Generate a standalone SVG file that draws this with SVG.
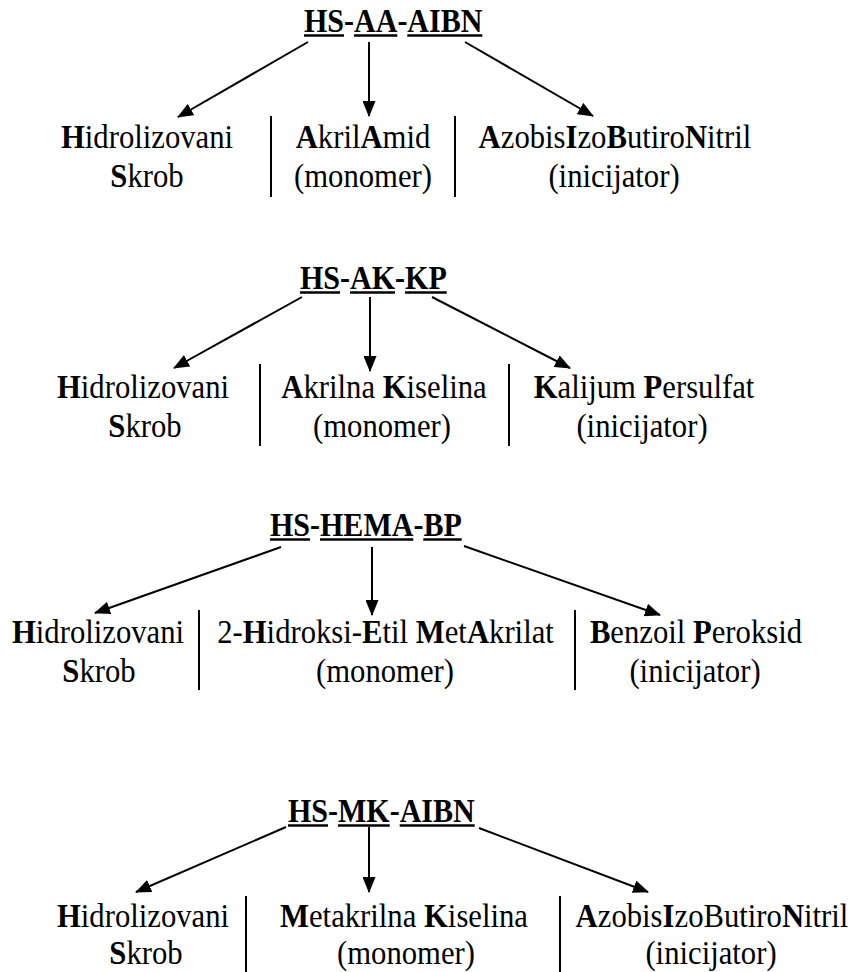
<svg xmlns="http://www.w3.org/2000/svg" width="854" height="972" viewBox="0 0 854 972">
<defs>
<marker id="ah" markerUnits="userSpaceOnUse" markerWidth="16" markerHeight="13" refX="15" refY="6.5" orient="auto"><path d="M0,0 L16,6.5 L0,13 z" fill="#000"/></marker>
<style>
text{font-family:"Liberation Serif","Times New Roman","DejaVu Serif",serif;fill:#000}
.t{font-size:33px;font-weight:bold}
.b{font-size:33px;text-anchor:middle}
.k{font-weight:bold}
.ul{stroke:#000;stroke-width:2.5}
.sep{stroke:#000;stroke-width:2}
.arr{stroke:#000;stroke-width:2;fill:none;marker-end:url(#ah)}
</style>
</defs>
<rect width="854" height="972" fill="#fff"/>

<!-- Block 1 -->
<g id="b1-title"><text class="t" transform="translate(304,32) scale(0.91,1)">HS-AA-AIBN</text>
<line class="ul" x1="304" y1="35.5" x2="344" y2="35.5"/><line class="ul" x1="354" y1="35.5" x2="397.3" y2="35.5"/><line class="ul" x1="407.3" y1="35.5" x2="482.3" y2="35.5"/></g>
<g id="b1-hs"><text class="b" transform="translate(147,148) scale(0.93,1)"><tspan class="k">H</tspan>idrolizovani</text><text class="b" transform="translate(147,187) scale(0.93,1)"><tspan class="k">S</tspan>krob</text></g>
<g id="b1-aa"><text class="b" transform="translate(363,148) scale(0.93,1)"><tspan class="k">A</tspan>kril<tspan class="k">A</tspan>mid</text><text class="b" transform="translate(363,187) scale(0.93,1)">(monomer)</text></g>
<g id="b1-aibn"><text class="b" transform="translate(615,148) scale(0.93,1)"><tspan class="k">A</tspan>zobis<tspan class="k">I</tspan>zo<tspan class="k">B</tspan>utiro<tspan class="k">N</tspan>itril</text><text class="b" transform="translate(614,187) scale(0.93,1)">(inicijator)</text></g>
<g id="b1-separators"><line class="sep" x1="271" y1="116" x2="271" y2="197"/><line class="sep" x1="455" y1="116" x2="455" y2="197"/></g>

<!-- Block 2 -->
<g id="b2-title"><text class="t" transform="translate(300,289) scale(0.91,1)">HS-AK-KP</text>
<line class="ul" x1="300" y1="292.5" x2="340" y2="292.5"/><line class="ul" x1="350" y1="292.5" x2="395" y2="292.5"/><line class="ul" x1="405" y1="292.5" x2="446.7" y2="292.5"/></g>
<g id="b2-hs"><text class="b" transform="translate(143,398) scale(0.93,1)"><tspan class="k">H</tspan>idrolizovani</text><text class="b" transform="translate(145,437) scale(0.93,1)"><tspan class="k">S</tspan>krob</text></g>
<g id="b2-ak"><text class="b" transform="translate(384,398) scale(0.93,1)"><tspan class="k">A</tspan>krilna <tspan class="k">K</tspan>iselina</text><text class="b" transform="translate(382,437) scale(0.93,1)">(monomer)</text></g>
<g id="b2-kp"><text class="b" transform="translate(644,398) scale(0.93,1)"><tspan class="k">K</tspan>alijum <tspan class="k">P</tspan>ersulfat</text><text class="b" transform="translate(642,437) scale(0.93,1)">(inicijator)</text></g>
<g id="b2-separators"><line class="sep" x1="260" y1="364" x2="260" y2="446"/><line class="sep" x1="509" y1="364" x2="509" y2="446"/></g>

<!-- Block 3 -->
<g id="b3-title"><text class="t" transform="translate(270,536) scale(0.91,1)">HS-HEMA-BP</text>
<line class="ul" x1="270" y1="539.5" x2="310" y2="539.5"/><line class="ul" x1="320" y1="539.5" x2="413.3" y2="539.5"/><line class="ul" x1="423.3" y1="539.5" x2="461.7" y2="539.5"/></g>
<g id="b3-hs"><text class="b" transform="translate(98,643) scale(0.93,1)"><tspan class="k">H</tspan>idrolizovani</text><text class="b" transform="translate(99,682) scale(0.93,1)"><tspan class="k">S</tspan>krob</text></g>
<g id="b3-hema"><text class="b" transform="translate(385.5,643) scale(0.93,1)">2-<tspan class="k">H</tspan>idroksi-<tspan class="k">E</tspan>til <tspan class="k">M</tspan>et<tspan class="k">A</tspan>krilat</text><text class="b" transform="translate(385,682) scale(0.93,1)">(monomer)</text></g>
<g id="b3-bp"><text class="b" transform="translate(696,643) scale(0.93,1)"><tspan class="k">B</tspan>enzoil <tspan class="k">P</tspan>eroksid</text><text class="b" transform="translate(695,682) scale(0.93,1)">(inicijator)</text></g>
<g id="b3-separators"><line class="sep" x1="199" y1="610" x2="199" y2="690"/><line class="sep" x1="575" y1="610" x2="575" y2="690"/></g>

<!-- Block 4 -->
<g id="b4-title"><text class="t" transform="translate(288,822) scale(0.91,1)">HS-MK-AIBN</text>
<line class="ul" x1="288" y1="825.5" x2="328" y2="825.5"/><line class="ul" x1="338" y1="825.5" x2="389.7" y2="825.5"/><line class="ul" x1="399.7" y1="825.5" x2="474.7" y2="825.5"/></g>
<g id="b4-hs"><text class="b" transform="translate(143,927) scale(0.93,1)"><tspan class="k">H</tspan>idrolizovani</text><text class="b" transform="translate(146,964) scale(0.93,1)"><tspan class="k">S</tspan>krob</text></g>
<g id="b4-mk"><text class="b" transform="translate(404,927) scale(0.93,1)"><tspan class="k">M</tspan>etakrilna <tspan class="k">K</tspan>iselina</text><text class="b" transform="translate(406,964) scale(0.93,1)">(monomer)</text></g>
<g id="b4-aibn"><text class="b" transform="translate(712,927) scale(0.93,1)"><tspan class="k">A</tspan>zobis<tspan class="k">I</tspan>zoButiro<tspan class="k">N</tspan>itril</text><text class="b" transform="translate(711,964) scale(0.93,1)">(inicijator)</text></g>
<g id="b4-separators"><line class="sep" x1="246" y1="896" x2="246" y2="972"/><line class="sep" x1="560" y1="896" x2="560" y2="972"/></g>

<g id="connectors">
<line class="arr" x1="308" y1="42" x2="178" y2="117"/>
<line class="arr" x1="369" y1="42" x2="369" y2="116"/>
<line class="arr" x1="465" y1="42" x2="593" y2="116"/>
<line class="arr" x1="302" y1="297" x2="174" y2="368"/>
<line class="arr" x1="370" y1="297" x2="370" y2="371"/>
<line class="arr" x1="432" y1="297" x2="570" y2="368"/>
<line class="arr" x1="281" y1="547" x2="95" y2="613"/>
<line class="arr" x1="372" y1="547" x2="372" y2="615"/>
<line class="arr" x1="464" y1="546" x2="660" y2="615"/>
<line class="arr" x1="286" y1="827" x2="136" y2="892"/>
<line class="arr" x1="369" y1="827" x2="369" y2="892"/>
<line class="arr" x1="479" y1="828" x2="648" y2="892"/>
</g>
</svg>
